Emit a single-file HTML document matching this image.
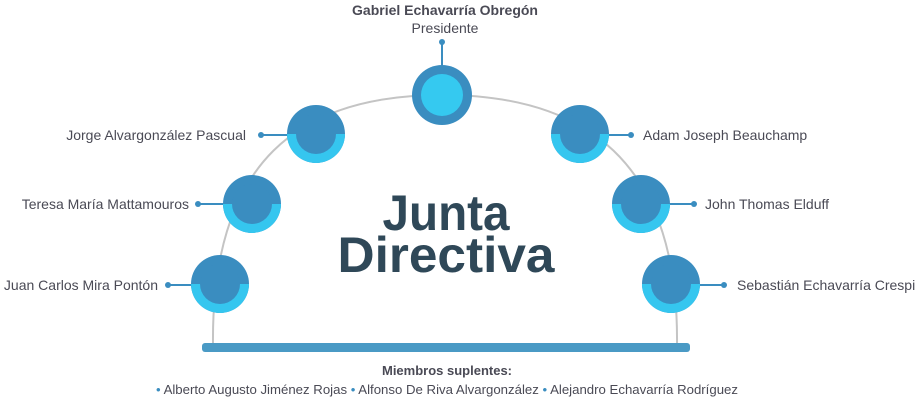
<!DOCTYPE html>
<html><head><meta charset="utf-8"><style>
html,body{margin:0;padding:0;background:#fff;}
svg{display:block;font-family:"Liberation Sans",sans-serif;}
</style></head><body>
<svg width="920" height="400" viewBox="0 0 920 400" xmlns="http://www.w3.org/2000/svg">
<defs>
<clipPath id="bh"><rect x="-40" y="0" width="80" height="40"/></clipPath>
<g id="side">
<circle r="29" fill="#3a8dc0"/>
<circle r="29" fill="#35c6ef" clip-path="url(#bh)"/>
<circle r="20" fill="#3a8dc0"/>
</g>
</defs>
<path d="M213,345 C211,160 300,95 442,95 C584,95 679,160 677,345" fill="none" stroke="#c4c4c4" stroke-width="2"/>
<rect x="202" y="343" width="488" height="9" rx="3" fill="#4a9ac5"/>
<!-- top -->
<line x1="442" y1="42" x2="442" y2="68" stroke="#3a8dc0" stroke-width="2"/>
<circle cx="442" cy="42" r="3" fill="#3a8dc0"/>
<circle cx="442" cy="95" r="30" fill="#3a8dc0"/>
<circle cx="442" cy="95" r="21" fill="#35c9f0"/>
<text x="445" y="15" text-anchor="middle" font-size="14" font-weight="bold" fill="#4a4a55">Gabriel Echavarría Obregón</text>
<text x="445" y="33" text-anchor="middle" font-size="14" fill="#4a4a55">Presidente</text>
<!-- connectors left -->
<g stroke="#3a8dc0" stroke-width="2" fill="#3a8dc0">
<line x1="261" y1="135" x2="300" y2="135"/><circle cx="261" cy="135" r="3" stroke="none"/>
<line x1="198" y1="204" x2="240" y2="204"/><circle cx="198" cy="204" r="3" stroke="none"/>
<line x1="168" y1="285" x2="205" y2="285"/><circle cx="168" cy="285" r="3" stroke="none"/>
<line x1="595" y1="135" x2="631" y2="135"/><circle cx="631" cy="135" r="3" stroke="none"/>
<line x1="655" y1="204" x2="694" y2="204"/><circle cx="694" cy="204" r="3" stroke="none"/>
<line x1="685" y1="285" x2="724" y2="285"/><circle cx="724" cy="285" r="3" stroke="none"/>
</g>
<use href="#side" x="316" y="134"/>
<use href="#side" x="252" y="204"/>
<use href="#side" x="220" y="284"/>
<use href="#side" x="580" y="134"/>
<use href="#side" x="641" y="204"/>
<use href="#side" x="671" y="284"/>
<g font-size="14" fill="#4a4a55">
<text x="246" y="140" text-anchor="end">Jorge Alvargonzález Pascual</text>
<text x="189" y="209" text-anchor="end">Teresa María Mattamouros</text>
<text x="158" y="290" text-anchor="end">Juan Carlos Mira Pontón</text>
<text x="643" y="140">Adam Joseph Beauchamp</text>
<text x="705" y="209">John Thomas Elduff</text>
<text x="737" y="290">Sebastián Echavarría Crespi</text>
</g>
<text x="446" y="230" text-anchor="middle" font-size="50" font-weight="bold" fill="#2f4858" textLength="127" lengthAdjust="spacingAndGlyphs">Junta</text>
<text x="446" y="272" text-anchor="middle" font-size="50" font-weight="bold" fill="#2f4858" textLength="217" lengthAdjust="spacingAndGlyphs">Directiva</text>
<text x="447" y="375" text-anchor="middle" font-size="13" font-weight="bold" fill="#4a4a55">Miembros suplentes:</text>
<text x="447" y="394" text-anchor="middle" font-size="13" fill="#4a4a55" textLength="582" lengthAdjust="spacingAndGlyphs"><tspan fill="#3a8dc0">•</tspan> Alberto Augusto Jiménez Rojas <tspan fill="#3a8dc0">•</tspan> Alfonso De Riva Alvargonzález <tspan fill="#3a8dc0">•</tspan> Alejandro Echavarría Rodríguez</text>
</svg>
</body></html>
